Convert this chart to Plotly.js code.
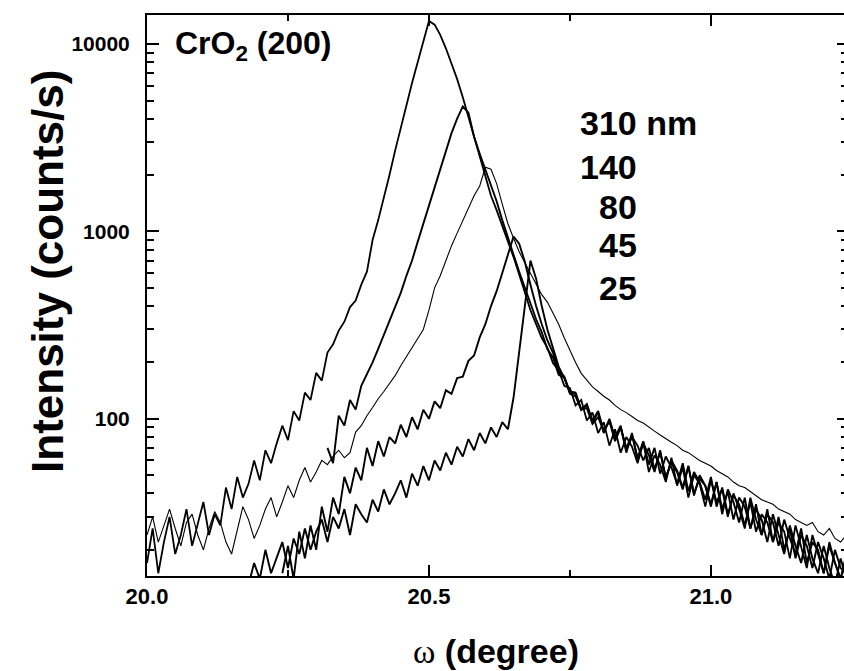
<!DOCTYPE html>
<html>
<head>
<meta charset="utf-8">
<script src="https://cdn.plot.ly/plotly-3.0.1.min.js"></script>
<style>html,body{margin:0;padding:0;background:#fff;}</style>
</head>
<body>
<div id="chart" style="width:844px;height:671px;"></div>
<script>
// omega (degree) grid shared by all scans; null = no data
const omega = [
20.00,20.01,20.02,20.03,20.04,20.05,20.06,20.07,20.08,20.09,
20.10,20.11,20.12,20.13,20.14,20.15,20.16,20.17,20.18,20.19,
20.20,20.21,20.22,20.23,20.24,20.25,20.26,20.27,20.28,20.29,
20.30,20.31,20.32,20.33,20.34,20.35,20.36,20.37,20.38,20.39,
20.40,20.41,20.42,20.43,20.44,20.45,20.46,20.47,20.48,20.49,
20.50,20.51,20.52,20.53,20.54,20.55,20.56,20.57,20.58,20.59,
20.60,20.61,20.62,20.63,20.64,20.65,20.66,20.67,20.68,20.69,
20.70,20.71,20.72,20.73,20.74,20.75,20.76,20.77,20.78,20.79,
20.80,20.81,20.82,20.83,20.84,20.85,20.86,20.87,20.88,20.89,
20.90,20.91,20.92,20.93,20.94,20.95,20.96,20.97,20.98,20.99,
21.00,21.01,21.02,21.03,21.04,21.05,21.06,21.07,21.08,21.09,
21.10,21.11,21.12,21.13,21.14,21.15,21.16,21.17,21.18,21.19,
21.20,21.21,21.22,21.23,21.24];

const I_310nm = [
17,26,15,22,30,19,24,33,21,28,
36,24,31,27,43,33,49,38,45,60,
47,68,58,74,92,77,110,98,138,126,
176,160,226,250,296,330,395,428,520,610,
900,1150,1500,2000,2700,3600,4800,6200,8000,10500,
13300,12700,11200,9500,7900,6500,5200,4100,3200,2500,
1950,1550,1300,1080,900,730,590,470,380,320,
270,240,198,182,150,146,118,126,98,108,
84,96,72,88,66,80,71,58,75,52,
64,57,46,62,44,55,38,50,45,34,
47,36,42,30,40,33,26,38,29,24,
33,22,28,25,18,27,21,16,24,19,
15,22,17,14,19];

const I_140nm = [
null,null,null,null,null,null,null,null,null,null,
null,null,null,null,null,null,null,null,null,null,
null,null,null,null,null,null,null,null,null,null,
null,null,70,58,104,92,126,112,150,172,
200,236,280,330,395,470,580,700,880,1100,
1400,1750,2200,2750,3350,4000,4650,4300,3200,2600,
2150,1750,1450,1150,940,750,610,500,410,340,
290,236,212,172,166,136,132,112,114,94,
102,86,97,76,90,68,80,72,60,70,
54,66,49,58,52,42,56,40,48,44,
35,46,33,41,29,38,34,26,35,24,
31,28,21,29,23,19,26,17,22,20,
15,21,17,14,18];

const I_80nm = [
24,30,22,27,33,26,21,28,31,24,
20,26,32,28,22,19,25,34,29,23,
27,33,38,30,36,44,38,47,55,46,
52,60,57,63,68,62,66,85,92,104,
115,128,140,155,170,192,215,240,270,300,
380,500,580,700,840,980,1150,1350,1550,1750,
2200,2150,1800,1400,1100,920,780,680,600,520,
460,420,370,320,270,230,200,175,160,148,
140,132,126,118,112,108,103,98,95,90,
86,82,78,75,72,68,66,63,60,58,
56,53,51,49,46,44,43,41,39,37,
36,35,33,32,31,29,28,27,28,25,
24,26,23,22,24];

const I_45nm = [
null,null,null,null,null,null,null,null,null,null,
null,null,null,null,null,null,null,null,null,null,
null,null,null,null,15,21,14,25,18,27,
20,34,25,38,31,49,40,55,47,70,
56,76,63,80,74,93,80,102,88,112,
100,124,114,142,136,165,168,204,218,272,
320,400,480,600,750,940,860,690,520,400,
320,262,225,180,168,138,136,112,118,96,
108,84,100,78,90,70,82,62,76,57,
70,51,63,55,45,58,41,52,46,37,
49,34,43,31,39,35,27,36,25,31,
28,22,30,20,26,18,24,21,16,22,
18,14,20,16,15];

const I_25nm = [
null,null,null,null,null,null,null,null,null,null,
null,null,null,null,null,null,null,null,13,17,
14,20,15,18,22,16,23,19,26,20,
25,29,22,30,26,33,24,35,31,28,
37,32,42,35,40,47,38,51,44,56,
47,60,53,66,57,71,63,78,68,84,
74,90,80,96,88,130,230,420,700,560,
400,300,240,190,165,140,138,112,120,98,
110,86,98,80,92,66,84,60,74,64,
52,68,48,60,53,43,56,39,50,44,
34,46,31,42,36,28,38,26,33,29,
22,31,24,19,27,21,17,24,18,15,
21,16,13,18,14];

const seriesNames = ['310 nm','140','80','45','25'];
const seriesData = [I_310nm, I_140nm, I_80nm, I_45nm, I_25nm];
const seriesWidth = [1.8, 1.9, 1.1, 1.9, 1.9];

const xTickVals = [20.0, 20.5, 21.0];
const yTickVals = [100, 1000, 10000];

const traces = seriesData.map((d, i) => ({
  type: 'scatter', mode: 'lines', x: omega, y: d, name: seriesNames[i],
  line: {color: '#000', width: seriesWidth[i]}, connectgaps: false,
  hoverinfo: 'skip'
}));
// empty trace to carry the right-hand tick axis
traces.push({type:'scatter', mode:'lines', x: [], y: [], yaxis: 'y2', showlegend: false, hoverinfo:'skip'});

const yRange = [Math.log10(14.5), Math.log10(14300)];
const tickFont = {family: 'Liberation Sans, Arial, sans-serif', size: 22, weight: 'bold', color: '#000'};
const labFont = {family: 'Liberation Sans, Arial, sans-serif', size: 34, weight: 'bold', color: '#000'};

const layout = {
  width: 844, height: 671,
  margin: {l: 147, r: 0, t: 15, b: 95, pad: 0},
  paper_bgcolor: '#fff', plot_bgcolor: '#fff',
  showlegend: false,
  xaxis: {
    range: [20.0, 21.236], tickvals: xTickVals, ticktext: xTickVals.map(v => v.toFixed(1)),
    ticks: 'inside', ticklen: 11, tickwidth: 2, tickcolor: '#000',
    showline: true, linewidth: 2, linecolor: '#000', mirror: 'ticks',
    showgrid: false, zeroline: false, tickfont: tickFont, ticklabelstandoff: 0,
    minor: {tickvals: [20.25, 20.75], ticks: 'inside', ticklen: 6, tickwidth: 2, tickcolor: '#000', showgrid: false}
  },
  yaxis: {
    type: 'log', range: yRange, tickvals: yTickVals, ticktext: yTickVals.map(String),
    ticks: 'inside', ticklen: 12, tickwidth: 2, tickcolor: '#000',
    showline: true, linewidth: 2, linecolor: '#000', mirror: false,
    showgrid: false, zeroline: false, tickfont: {...tickFont, size: 21}, ticklabelstandoff: 11,
    minor: {dtick: 'D1', ticks: 'inside', ticklen: 7, tickwidth: 2, tickcolor: '#000', showgrid: false}
  },
  yaxis2: {
    type: 'log', range: yRange, overlaying: 'y', side: 'right', anchor: 'x',
    tickvals: yTickVals, ticks: 'inside', ticklen: 7, tickwidth: 2, tickcolor: '#000',
    showticklabels: false, showline: false, showgrid: false, zeroline: false,
    minor: {dtick: 'D1', ticks: 'inside', ticklen: 3, tickwidth: 2, tickcolor: '#000', showgrid: false}
  },
  annotations: [
    {xref:'paper', yref:'paper', x: -0.142, y: 0.542, text: 'Intensity (counts/s)', textangle: -90,
     showarrow: false, xanchor: 'center', yanchor: 'middle', font: {...labFont, size: 44}},
    {xref:'paper', yref:'paper', x: 0.5007, y: -0.134, text: '<span style="font-family:Liberation Serif;font-weight:normal">ω</span> (degree)',
     showarrow: false, xanchor: 'center', yanchor: 'middle', font: {...labFont, size: 34}},
    {xref:'paper', yref:'paper', x: 0.037, y: 0.9465, text: 'CrO<sub>2</sub> (200)',
     showarrow: false, xanchor: 'left', yanchor: 'middle', font: {...labFont, size: 32}},
    {xref:'paper', yref:'paper', x: 0.618, y: 0.807, text: '310 nm', showarrow: false, xanchor: 'left', yanchor: 'middle', font: labFont},
    {xref:'paper', yref:'paper', x: 0.618, y: 0.729, text: '140', showarrow: false, xanchor: 'left', yanchor: 'middle', font: labFont},
    {xref:'paper', yref:'paper', x: 0.6456, y: 0.658, text: '80', showarrow: false, xanchor: 'left', yanchor: 'middle', font: labFont},
    {xref:'paper', yref:'paper', x: 0.6456, y: 0.590, text: '45', showarrow: false, xanchor: 'left', yanchor: 'middle', font: labFont},
    {xref:'paper', yref:'paper', x: 0.6456, y: 0.513, text: '25', showarrow: false, xanchor: 'left', yanchor: 'middle', font: labFont}
  ]
};

Plotly.newPlot('chart', traces, layout, {displayModeBar: false, staticPlot: true});
</script>
</body>
</html>
